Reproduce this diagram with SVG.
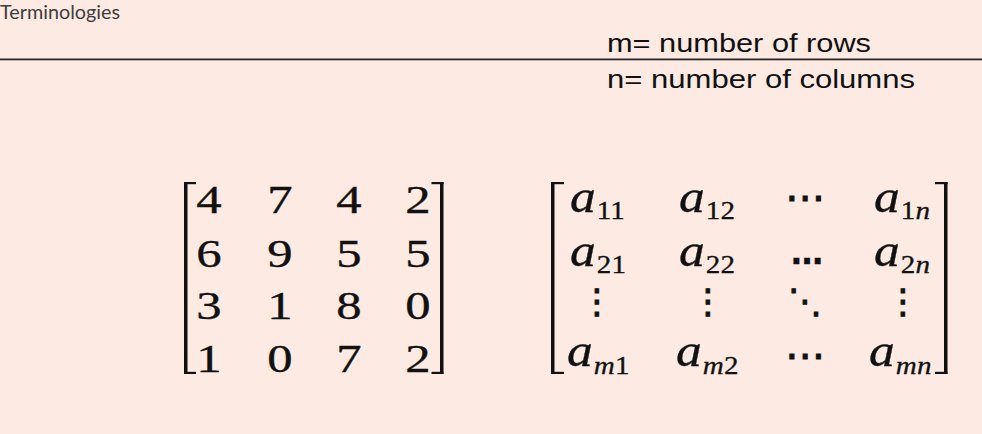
<svg xmlns="http://www.w3.org/2000/svg" width="982" height="434" viewBox="0 0 982 434">
  <style>
    .title { font-family: Lato, "Open Sans", "Liberation Sans", sans-serif; font-size: 18.5px; fill: #3d3d3d; }
    .legend { font-family: "Liberation Sans", Arial, sans-serif; font-size: 26px; fill: #111111; }
    .d { font-family: "Liberation Serif", "Times New Roman", serif; font-size: 39px; fill: #111111; stroke: #111111; stroke-width: 0.35px; text-anchor: middle; }
    .a { font-family: "Liberation Serif", "Times New Roman", serif; font-size: 46px; font-style: italic; fill: #111111; stroke: #111111; stroke-width: 0.35px; }
    .sub { font-size: 26px; stroke-width: 0.3px; }
    .up { font-style: normal; }
    .dots { font-family: "DejaVu Sans", sans-serif; fill: #111111; stroke: #111111; stroke-width: 1px; text-anchor: middle; }
    .bold { font-weight: bold; stroke-width: 0.3px; }
    .br { fill: #111111; }
  </style>
  <rect x="0" y="0" width="982" height="434" fill="#fdeae2"/>

  <g id="title">
    <text class="title" x="0" y="19" textLength="120" lengthAdjust="spacingAndGlyphs">Terminologies</text>
    <rect x="0" y="58.5" width="982" height="1.8" fill="#262626"/>
  </g>

  <g id="legend">
    <text class="legend" x="607" y="52" textLength="264" lengthAdjust="spacingAndGlyphs">m= number of rows</text>
    <text class="legend" x="607" y="88" textLength="308" lengthAdjust="spacingAndGlyphs">n= number of columns</text>
  </g>

  <g id="matrix-numeric">
    <rect class="br" x="184" y="182" width="3.5" height="192"/>
    <rect class="br" x="184" y="182" width="12" height="2.2"/>
    <rect class="br" x="184" y="371.8" width="12" height="2.2"/>
    <rect class="br" x="440" y="182" width="3.5" height="192"/>
    <rect class="br" x="431.5" y="182" width="12" height="2.2"/>
    <rect class="br" x="431.5" y="371.8" width="12" height="2.2"/>

    <text class="d" transform="translate(209,213) scale(1.3,1)">4</text>
    <text class="d" transform="translate(280,213) scale(1.3,1)">7</text>
    <text class="d" transform="translate(349,213) scale(1.3,1)">4</text>
    <text class="d" transform="translate(418,213) scale(1.3,1)">2</text>

    <text class="d" transform="translate(209,267) scale(1.3,1)">6</text>
    <text class="d" transform="translate(280,267) scale(1.3,1)">9</text>
    <text class="d" transform="translate(349,267) scale(1.3,1)">5</text>
    <text class="d" transform="translate(418,267) scale(1.3,1)">5</text>

    <text class="d" transform="translate(209,319) scale(1.3,1)">3</text>
    <text class="d" transform="translate(280,319) scale(1.3,1)">1</text>
    <text class="d" transform="translate(349,319) scale(1.3,1)">8</text>
    <text class="d" transform="translate(418,319) scale(1.3,1)">0</text>

    <text class="d" transform="translate(209,372) scale(1.3,1)">1</text>
    <text class="d" transform="translate(280,372) scale(1.3,1)">0</text>
    <text class="d" transform="translate(349,372) scale(1.3,1)">7</text>
    <text class="d" transform="translate(418,372) scale(1.3,1)">2</text>
  </g>

  <g id="matrix-general">
    <rect class="br" x="551" y="182" width="3.5" height="192"/>
    <rect class="br" x="551" y="182" width="13" height="2.2"/>
    <rect class="br" x="551" y="371.8" width="13" height="2.2"/>
    <rect class="br" x="944" y="182" width="3.5" height="192"/>
    <rect class="br" x="935" y="182" width="12.5" height="2.2"/>
    <rect class="br" x="935" y="371.8" width="12.5" height="2.2"/>

    <text class="a" transform="translate(570,212) scale(1.12,1)">a<tspan class="sub up" dx="1" dy="7">11</tspan></text>
    <text class="a" transform="translate(679,212) scale(1.12,1)">a<tspan class="sub up" dx="1" dy="7">12</tspan></text>
    <text class="dots" x="805" y="211" font-size="40">⋯</text>
    <text class="a" transform="translate(874,212) scale(1.12,1)">a<tspan class="sub" dx="1" dy="7"><tspan class="up">1</tspan>n</tspan></text>

    <text class="a" transform="translate(570,266) scale(1.12,1)">a<tspan class="sub up" dx="1" dy="7">21</tspan></text>
    <text class="a" transform="translate(679,266) scale(1.12,1)">a<tspan class="sub up" dx="1" dy="7">22</tspan></text>
    <text class="dots bold" x="807" y="264" font-size="32">…</text>
    <text class="a" transform="translate(874,266) scale(1.12,1)">a<tspan class="sub" dx="1" dy="7"><tspan class="up">2</tspan>n</tspan></text>

    <text class="dots" x="597" y="313" font-size="34">⋮</text>
    <text class="dots" x="708" y="313" font-size="34">⋮</text>
    <text class="dots" x="805" y="313" font-size="34">⋱</text>
    <text class="dots" x="903" y="313" font-size="34">⋮</text>

    <text class="a" transform="translate(567,366) scale(1.12,1)">a<tspan class="sub" dx="1" dy="8">m<tspan class="up">1</tspan></tspan></text>
    <text class="a" transform="translate(676,366) scale(1.12,1)">a<tspan class="sub" dx="1" dy="8">m<tspan class="up">2</tspan></tspan></text>
    <text class="dots" x="805" y="369" font-size="40">⋯</text>
    <text class="a" transform="translate(869,366) scale(1.12,1)">a<tspan class="sub" dx="1" dy="8">mn</tspan></text>
  </g>
</svg>
